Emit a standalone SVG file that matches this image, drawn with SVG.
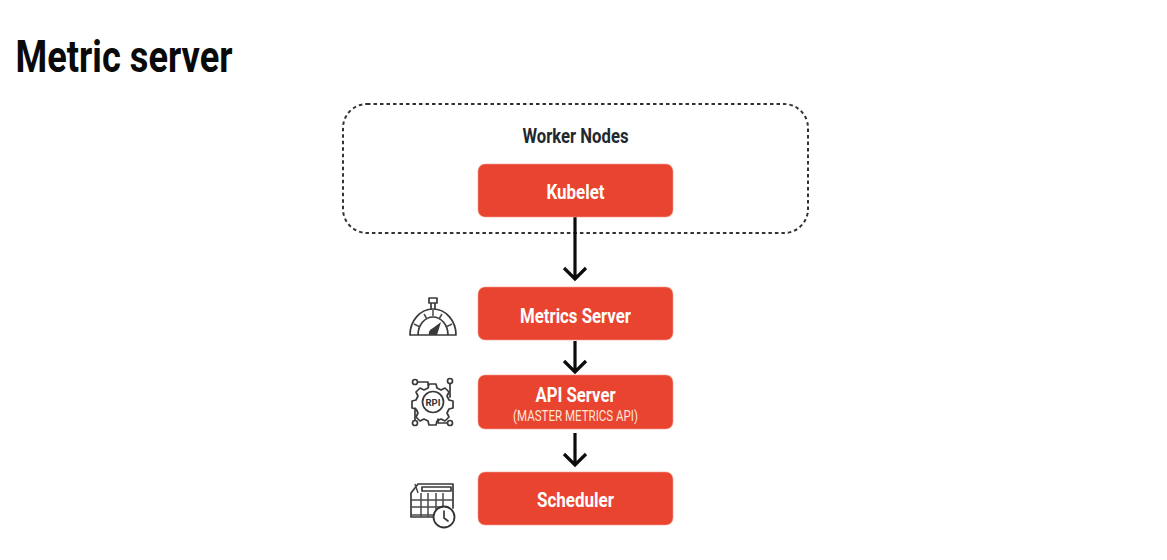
<svg xmlns="http://www.w3.org/2000/svg" width="1167" height="560" viewBox="0 0 1167 560">
<style>
text{font-family:"Roboto","Liberation Sans",sans-serif;text-anchor:middle}
.box{fill:#e94430;stroke:#f2a090;stroke-width:.6}
.lbl{fill:#fff;font-weight:700;font-size:21px}
.conn{fill:none;stroke:#0c0c0c;stroke-width:3.2}
.ic{fill:none;stroke:#3a3a3a;stroke-width:1.700;stroke-linecap:round;stroke-linejoin:round}
.ic2{fill:none;stroke:#4a4a4a;stroke-width:1.500}
</style>
<rect width="1167" height="560" fill="#fff"/>
<text id="title" x="124" y="72" style="font-weight:700;font-size:44px" fill="#0a0a0a" textLength="217" lengthAdjust="spacingAndGlyphs">Metric server</text>
<g id="worker-nodes">
<rect x="343" y="104" width="465" height="129" rx="24" fill="none" stroke="#333" stroke-width="2" stroke-dasharray="3.500 3"/>
<text x="575.500" y="143" font-size="21" font-weight="700" fill="#23272e" textLength="106" lengthAdjust="spacingAndGlyphs">Worker Nodes</text>
</g>
<g id="connectors">
<path class="conn" d="M575 217V278M564 268L575 279L586 268"/>
<path class="conn" d="M575 341V371M564 361L575 372L586 361"/>
<path class="conn" d="M575 433V464M564 454L575 465L586 454"/>
</g>
<g id="kubelet">
<rect class="box" x="478" y="164" width="195" height="53" rx="7"/>
<text class="lbl" x="575.500" y="199" textLength="58" lengthAdjust="spacingAndGlyphs">Kubelet</text>
</g>
<g id="metrics-server">
<rect class="box" x="478" y="287" width="195" height="53" rx="7"/>
<text class="lbl" x="575.500" y="323" textLength="111" lengthAdjust="spacingAndGlyphs">Metrics Server</text>
</g>
<g id="api-server">
<rect class="box" x="478" y="375" width="195" height="54" rx="7"/>
<text class="lbl" x="575.500" y="402" textLength="80" lengthAdjust="spacingAndGlyphs">API Server</text>
<text x="575.500" y="421" font-size="15" fill="#fde3d8" textLength="125" lengthAdjust="spacingAndGlyphs">(MASTER METRICS API)</text>
</g>
<g id="scheduler">
<rect class="box" x="478" y="472" width="195" height="53" rx="7"/>
<text class="lbl" x="575.500" y="507" textLength="77" lengthAdjust="spacingAndGlyphs">Scheduler</text>
</g>
<g id="gauge-icon">
<path class="ic" d="M410 335A23 26 0 0 1 456 335ZM418 335A15 18 0 0 1 448 335M431 309V303M435 303V309M429 303H437V298H429Z"/>
<path class="ic2" d="M414 324L420 327M424 314L427 319M433 310V316M442 314L439 319M452 324L446 327"/>
<path d="M429 335C428 331 431 329 433 328L441 322L437 335Z" fill="#3a3a3a"/>
</g>
<g id="api-icon">
<path class="ic" d="M429 384h7l1 4 4 2 4-2 4 4-2 4 2 4 4 1v7l-4 1-2 4 2 4-4 4-4-2-4 2-1 4h-7l-1-4-4-2-4 2-4-4 2-4-2-4-4-1v-7l4-1 2-4-2-4 4-4 4 2 4-2z"/>
<circle class="ic" cx="433" cy="402" r="10.500"/>
<text x="433" y="406" font-size="9.500" font-weight="700" fill="#333">RPI</text>
<circle class="ic" cx="415" cy="382" r="2.500"/><circle class="ic" cx="450" cy="381" r="2.500"/><circle class="ic" cx="415" cy="423" r="2.500"/><circle class="ic" cx="450" cy="423" r="2.500"/>
<path class="ic" d="M418 382H428V385M450 384V397M415 420V408M447 423H438V419"/>
</g>
<g id="calendar-icon">
<path class="ic" d="M411 517V493L418 484H453V508M411 517H435"/>
<path class="ic" d="M422 487H451V491H422Z"/>
<path class="ic2" d="M411 500H453M411 507H440M411 515H434M421 493V517M428 493V517M436 493V510M443 493V507M415 484L418 493"/>
<circle cx="444" cy="517" r="10.500" fill="#fff" stroke="#333" stroke-width="1.800"/>
<path class="ic" d="M444 511V518L448 521"/>
</g>
</svg>
